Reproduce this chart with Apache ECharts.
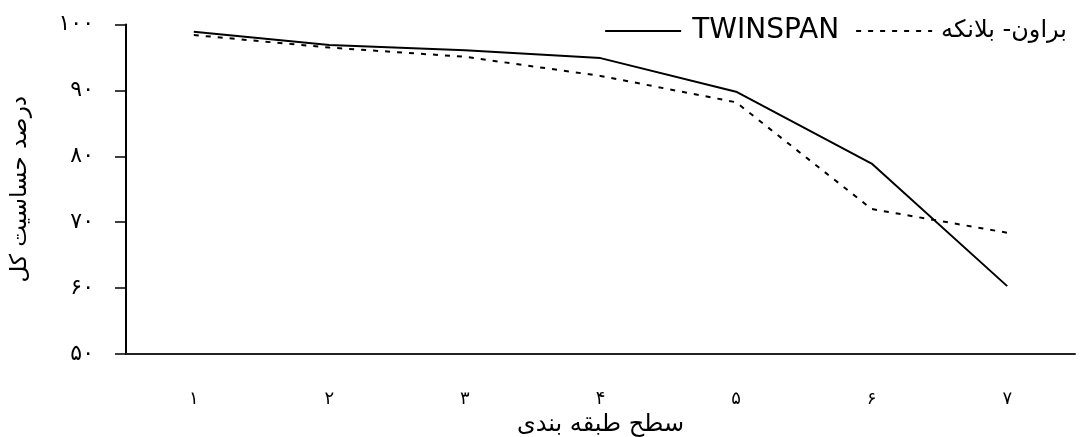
<!DOCTYPE html>
<html>
<head>
<meta charset="utf-8">
<script src="https://cdn.jsdelivr.net/npm/echarts@6/dist/echarts.min.js"></script>
<style>html,body{margin:0;padding:0;background:#fff;}#c{width:1081px;height:437px;}</style>
</head>
<body>
<div id="c"></div>
<script>
var categories = ['۱', '۲', '۳', '۴', '۵', '۶', '۷'];
var twinspan = [98.9, 96.9, 96.1, 94.9, 89.8, 78.9, 60.3];
var braunBlanquet = [98.4, 96.5, 95.1, 92.2, 88.2, 72.0, 68.4];
var yTickLabels = {50: '۵۰', 60: '۶۰', 70: '۷۰', 80: '۸۰', 90: '۹۰', 100: '۱۰۰'};
var seriesNames = ['TWINSPAN', 'براون- بلانکه'];

var chart = echarts.init(document.getElementById('c'));
var font = 'DejaVu Sans';
chart.setOption({
  animation: false,
  backgroundColor: '#fff',
  grid: {left: 126, right: 6, top: 24.5, bottom: 83, containLabel: false, outerBoundsMode: 'none'},
  legend: {
    right: 9, top: 12,
    itemWidth: 76, itemHeight: 14, itemGap: 16,
    itemStyle: {opacity: 0},
    textStyle: {fontFamily: font, color: '#000', fontSize: 24},
    data: [
      {name: seriesNames[0], textStyle: {fontSize: 28, padding: [0, 0, 0, 6]}},
      {name: seriesNames[1], textStyle: {fontSize: 24, padding: [0, 0, 0, 4]}}
    ]
  },
  xAxis: {
    type: 'category',
    data: categories,
    boundaryGap: true,
    name: 'سطح طبقه بندی',
    nameLocation: 'middle',
    nameGap: 52,
    nameTextStyle: {fontFamily: font, fontSize: 24, color: '#000'},
    axisLine: {lineStyle: {color: '#222', width: 2}},
    axisTick: {alignWithLabel: false, length: 9, lineStyle: {color: '#000', width: 1.5}},
    axisLabel: {fontFamily: font, fontSize: 18, color: '#000', margin: 36},
    splitLine: {show: false}
  },
  yAxis: {
    type: 'value',
    min: 50, max: 100, interval: 10,
    name: 'درصد حساسیت کل',
    nameLocation: 'middle',
    nameGap: 94,
    nameTextStyle: {fontFamily: font, fontSize: 23, color: '#000'},
    axisLine: {show: true, lineStyle: {color: '#000', width: 2}},
    axisTick: {show: true, length: 11, lineStyle: {color: '#000', width: 1.5}},
    axisLabel: {fontFamily: font, fontSize: 22, color: '#000', margin: 32,
      formatter: function (v) { return yTickLabels[v] || ''; }},
    splitLine: {show: false}
  },
  series: [
    {
      name: seriesNames[0], type: 'line', data: twinspan,
      symbol: 'none', lineStyle: {color: '#000', width: 2, type: 'solid'},
      itemStyle: {color: '#000'}
    },
    {
      name: seriesNames[1], type: 'line', data: braunBlanquet,
      symbol: 'none', lineStyle: {color: '#000', width: 2, type: [5, 7]},
      itemStyle: {color: '#000'}
    }
  ]
});
</script>
</body>
</html>
